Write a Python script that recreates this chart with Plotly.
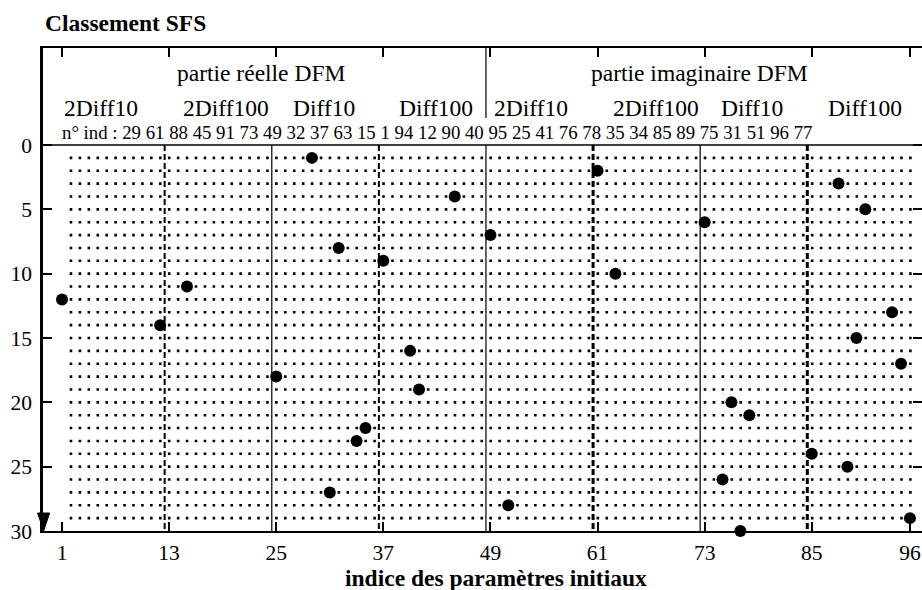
import plotly.graph_objects as go

# ---------------- data ----------------
# parameter indices in SFS ranking order (rank 1 .. 30)
ranked_indices = [29, 61, 88, 45, 91, 73, 49, 32, 37, 63, 15, 1, 94, 12, 90, 40,
                  95, 25, 41, 76, 78, 35, 34, 85, 89, 75, 31, 51, 96, 77]
ranks = list(range(1, len(ranked_indices) + 1))

x_tickvals = [1, 13, 25, 37, 49, 61, 73, 85, 96]
y_tickvals = [0, 5, 10, 15, 20, 25, 30]

part_labels = ["partie réelle DFM", "partie imaginaire DFM"]
group_labels = ["2Diff10", "2Diff100", "Diff10", "Diff100",
                "2Diff10", "2Diff100", "Diff10", "Diff100"]
group_size = 12
n_params = 96

# ---------------- styling / layout helpers ----------------
FONT = "Liberation Serif"
X_RANGE = [-1.1286, 97.35]
Y_RANGE = [30, -7.54]

fig = go.Figure()

fig.add_trace(go.Scatter(
    x=ranked_indices, y=ranks, mode="markers",
    marker=dict(color="black", size=12, line=dict(width=0)),
    cliponaxis=False, showlegend=False, hoverinfo="x+y"))

shapes = []
# dotted rows of the grid
for r in range(1, len(ranked_indices)):
    shapes.append(dict(type="line", xref="x", yref="y",
                       x0=1.86, x1=96.2, y0=r, y1=r, layer="below",
                       line=dict(color="black", width=2.6, dash="2.6px,6.33px")))

# group separators
n_groups = n_params // group_size
for g in range(1, n_groups):
    xb = g * group_size + 0.5
    if g % 2 == 1:
        w = 2.0 if g < n_groups // 2 else 3.0
        line = dict(color="black", width=w, dash="6px,3px")
    else:
        line = dict(color="#222222", width=1.4)
    shapes.append(dict(type="line", xref="x", yref="y", x0=xb, x1=xb,
                       y0=0, y1=30, layer="below", line=line))
    if g == n_groups // 2:
        shapes.append(dict(type="line", xref="x", yref="y", x0=xb, x1=xb,
                           y0=Y_RANGE[1], y1=-2.1, line=line))

# line at rank 0 (top of ranking area)
shapes.append(dict(type="line", xref="paper", yref="y", x0=0, x1=1, y0=0, y1=0,
                   line=dict(color="black", width=1.6)))

# arrow head at the bottom of the y axis
shapes.append(dict(type="path", xref="paper", yref="y",
                   xsizemode="pixel", ysizemode="pixel",
                   xanchor=0.0007, yanchor=30,
                   path="M-6,18 L6,18 L0,0 Z",
                   fillcolor="black", line=dict(color="black", width=1)))

annotations = []
annotations.append(dict(text="<b>Classement SFS</b>", xref="paper", yref="paper",
                        x=0, y=1.0518, xanchor="left", yanchor="middle",
                        showarrow=False, font=dict(family=FONT, size=23.5, color="black")))

part_x = [23.3, 72.4]
for lbl, px in zip(part_labels, part_x):
    annotations.append(dict(text=lbl, xref="x", yref="y", x=px, y=-5.6,
                            xanchor="center", yanchor="middle", showarrow=False,
                            font=dict(family=FONT, size=23.5, color="black")))

group_offsets = [0.0, 1.3, 1.7, 1.5, 0.2, 1.5, 1.6, 1.6]
for i, (lbl, off) in enumerate(zip(group_labels, group_offsets)):
    annotations.append(dict(text=lbl, xref="x", yref="y",
                            x=1 + i * group_size + off, y=-2.88,
                            xanchor="left", yanchor="middle", showarrow=False,
                            font=dict(family=FONT, size=23.5, color="black")))

ind_text = "n° ind : " + " ".join(str(v) for v in ranked_indices)
annotations.append(dict(text=ind_text, xref="x", yref="y", x=0.8, y=-0.96,
                        xanchor="left", yanchor="middle", showarrow=False,
                        font=dict(family=FONT, size=18.8, color="black")))

annotations.append(dict(text="<b>indice des paramètres initiaux</b>",
                        xref="x", yref="paper", x=49.6, y=0, yshift=-47,
                        xanchor="center", yanchor="middle", showarrow=False,
                        font=dict(family=FONT, size=23.5, color="black")))

fig.update_layout(
    width=922, height=590,
    margin=dict(l=43, r=0, t=48, b=59),
    paper_bgcolor="white", plot_bgcolor="white",
    shapes=shapes, annotations=annotations,
    showlegend=False,
    xaxis=dict(range=X_RANGE, tickvals=x_tickvals, ticks="inside", ticklen=9,
               tickwidth=1.5, tickcolor="black", showline=True, linewidth=2,
               linecolor="black", mirror="ticks", showgrid=False, zeroline=False,
               tickfont=dict(family=FONT, size=21.5, color="black"),
               ticklabelstandoff=1, automargin=False),
    yaxis=dict(range=Y_RANGE, tickvals=y_tickvals, ticks="inside", ticklen=9,
               tickwidth=1.5, tickcolor="black", showline=True, linewidth=2.5,
               linecolor="black", mirror="ticks", showgrid=False, zeroline=False,
               tickfont=dict(family=FONT, size=21.5, color="black"),
               ticklabelstandoff=4, automargin=False),
)

fig.write_html("out.html", config={"displayModeBar": False},
               post_script="document.body.style.margin='0';document.body.style.padding='0';")
